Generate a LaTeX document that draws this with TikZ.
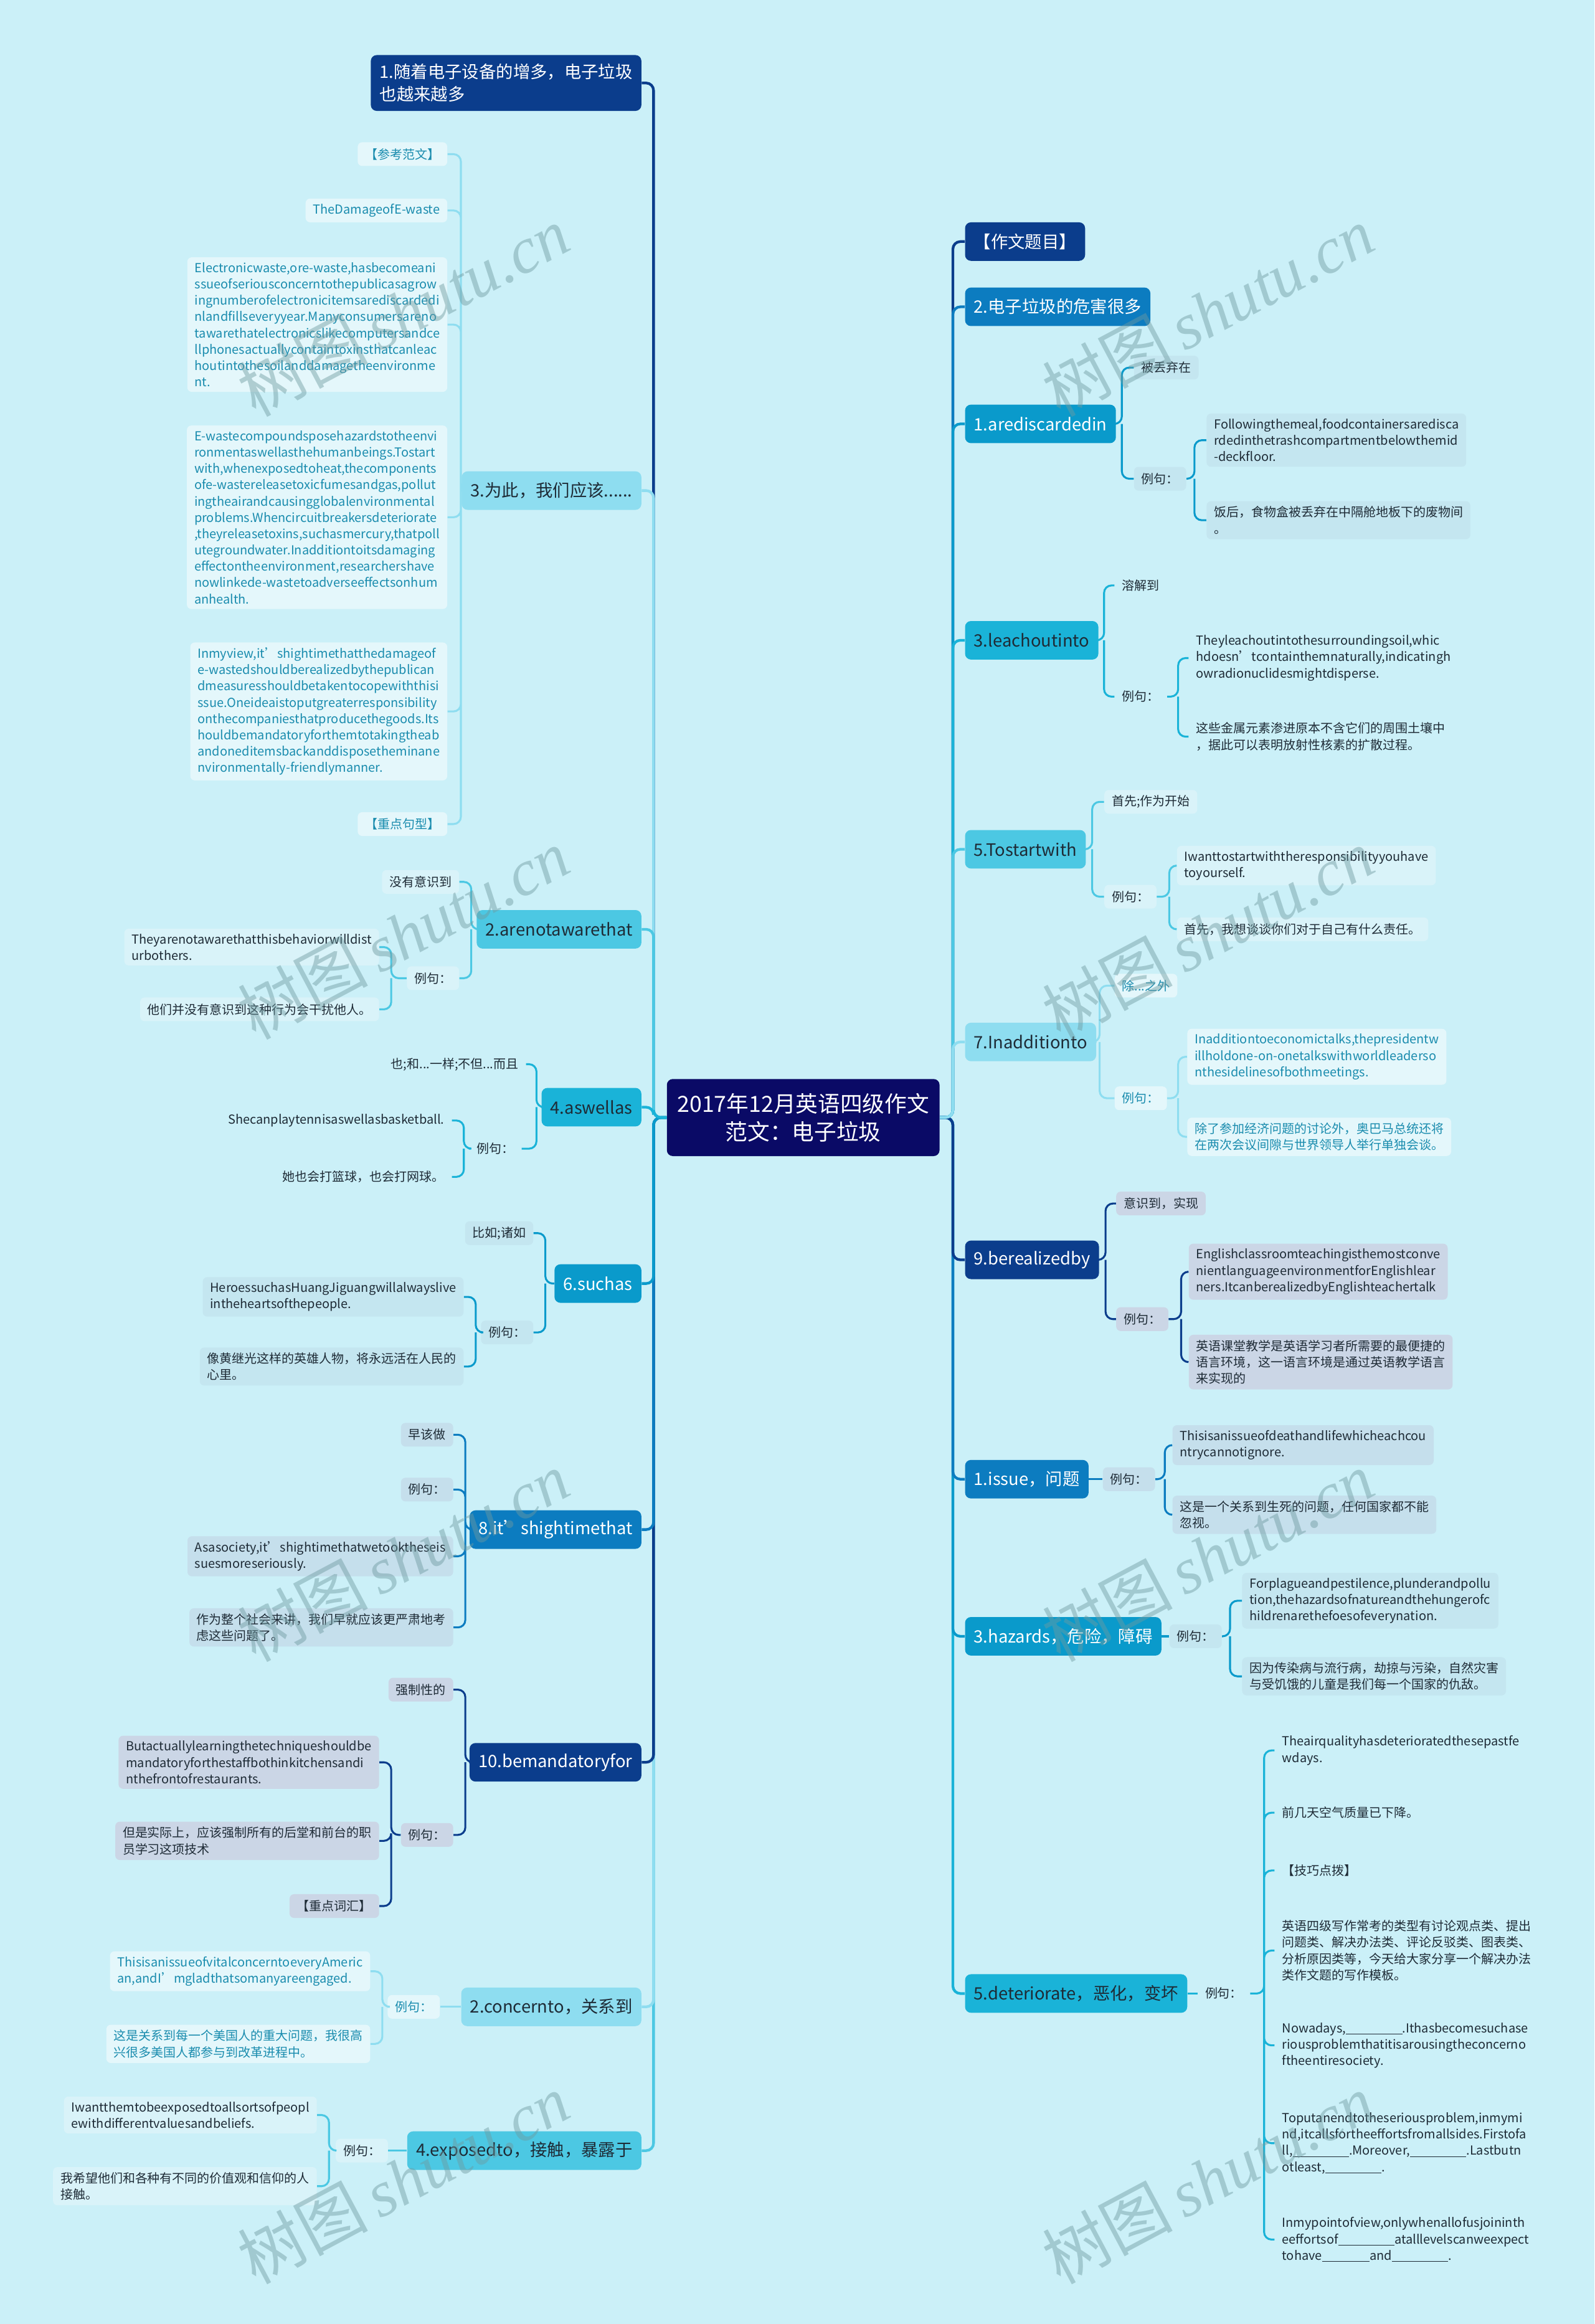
\documentclass[tikz,border=0pt]{standalone}
\usepackage{fontspec}
\setmainfont{Noto Sans CJK SC}
\newfontfamily\marcafont{Liberation Serif}
\newcommand{\hueco}[1]{\rule[-1.2pt]{#1}{0.5pt}}

\begin{document}
\begin{tikzpicture}[x=1pt, y=-1pt,
  tema/.style={rounded corners=4pt, inner xsep=6pt, inner ysep=6pt,
    minimum height=26pt, align=left, font=\fontsize{11.5}{15}\selectfont},
  tema1/.style={tema, fill=tono1, text=white},
  tema2/.style={tema, fill=tono2, text=white},
  tema3/.style={tema, fill=tono3, text=white},
  tema4/.style={tema, fill=tono4, text=tinta},
  tema5/.style={tema, fill=tono5, text=tinta},
  tema6/.style={tema, fill=tono6, text=tinta},
  hoja/.style={rounded corners=3pt, inner xsep=5pt, inner ysep=3.5pt,
    minimum height=16pt, align=left, text=tinta,
    font=\fontsize{8.4}{11}\selectfont},
  hoja1/.style={hoja, fill=palido1},
  hoja2/.style={hoja, fill=palido2},
  hoja3/.style={hoja, fill=palido3},
  hoja4/.style={hoja},
  hoja5/.style={hoja, fill=palido5},
  hoja6/.style={hoja, fill=palido6, text=verdeazul},
  rama/.style={line width=1.8pt, rounded corners=5pt},
  ramita/.style={line width=1.3pt, rounded corners=5pt},
  marca/.style={rotate=28, text=marcagris, opacity=0.45,
    font=\fontsize{44}{44}\selectfont}]
  \definecolor{fondo}{HTML}{CBF0F8}
  \definecolor{raizazul}{HTML}{0A0A66}
  \definecolor{tono1}{HTML}{0B3D8C}
  \definecolor{tono2}{HTML}{0C7CC0}
  \definecolor{tono3}{HTML}{0A9ACB}
  \definecolor{tono4}{HTML}{1AB3D8}
  \definecolor{tono5}{HTML}{4CC8E3}
  \definecolor{tono6}{HTML}{8EDDF0}
  \definecolor{palido1}{HTML}{CBD6E6}
  \definecolor{palido2}{HTML}{C5DFEC}
  \definecolor{palido3}{HTML}{C4E6F0}
  \definecolor{palido5}{HTML}{D9F3F9}
  \definecolor{palido6}{HTML}{E4F7FB}
  \definecolor{tinta}{HTML}{1E2B36}
  \definecolor{verdeazul}{HTML}{1A8CAE}
  \definecolor{marcagris}{HTML}{6E9AA0}

  \fill[fondo] (0,0) rectangle (1076,1568);
  \useasboundingbox (0,0) rectangle (1076,1568);

  \node[fill=raizazul, text=white, rounded corners=4pt, align=center,
    minimum width=184pt, minimum height=52pt,
    font=\fontsize{15}{19}\selectfont] (raiz) at (542,754)
    {2017年12月英语四级作文\\范文：电子垃圾};

  % ---------------- lado izquierdo ----------------
  \node[tema1, anchor=east] (l1) at (433,56) {1.随着电子设备的增多，电子垃圾\\也越来越多};
  \node[tema6, anchor=east] (l2) at (433,331) {3.为此，我们应该......};
  \node[tema5, anchor=east] (l3) at (433,627) {2.arenotawarethat};
  \node[tema4, anchor=east] (l4) at (433,747) {4.aswellas};
  \node[tema3, anchor=east] (l5) at (433,866) {6.suchas};
  \node[tema2, anchor=east] (l6) at (433,1032) {8.it’shightimethat};
  \node[tema1, anchor=east] (l7) at (433,1189) {10.bemandatoryfor};
  \node[tema6, anchor=east] (l8) at (433,1354) {2.concernto，关系到};
  \node[tema5, anchor=east] (l9) at (433,1451) {4.exposedto，接触，暴露于};

  % 3.为此
  \node[hoja6, anchor=east] (l2a) at (302,104) {【参考范文】};
  \node[hoja6, anchor=east] (l2b) at (302,142) {TheDamageofE-waste};
  \node[hoja6, anchor=east] (l2c) at (302,219) {Electronicwaste,ore-waste,hasbecomeani\\ssueofseriousconcerntothepublicasagrow\\ingnumberofelectronicitemsarediscardedi\\nlandfillseveryyear.Manyconsumersareno\\tawarethatelectronicslikecomputersandce\\llphonesactuallycontaintoxinsthatcanleac\\houtintothesoilanddamagetheenvironme\\nt.};
  \node[hoja6, anchor=east] (l2d) at (302,349) {E-wastecompoundsposehazardstotheenvi\\ronmentaswellasthehumanbeings.Tostart\\with,whenexposedtoheat,thecomponents\\ofe-wastereleasetoxicfumesandgas,pollut\\ingtheairandcausingglobalenvironmental\\problems.Whencircuitbreakersdeteriorate\\,theyreleasetoxins,suchasmercury,thatpoll\\utegroundwater.Inadditiontoitsdamaging\\effectontheenvironment,researchershave\\nowlinkede-wastetoadverseeffectsonhum\\anhealth.};
  \node[hoja6, anchor=east] (l2e) at (302,480) {Inmyview,it’shightimethatthedamageof\\e-wastedshouldberealizedbythepublican\\dmeasuresshouldbetakentocopewiththisi\\ssue.Oneideaistoputgreaterresponsibility\\onthecompaniesthatproducethegoods.Its\\houldbemandatoryforthemtotakingtheab\\andoneditemsbackanddisposetheminane\\nvironmentally-friendlymanner.};
  \node[hoja6, anchor=east] (l2g) at (302,556) {【重点句型】};
  \coordinate (l2k) at (311,331);
  \draw[ramita, tono6] (l2.west) -- (l2k) |- (l2a.east) (l2k) |- (l2b.east)
    (l2k) |- (l2c.east) (l2k) |- (l2d.east) (l2k) |- (l2e.east) (l2k) |- (l2g.east);

  % 2.arenotawarethat
  \node[hoja5, anchor=east] (l3a) at (310,595) {没有意识到};
  \node[hoja5, anchor=east] (l3b) at (310,660) {例句：};
  \node[hoja5, anchor=east] (l3c) at (256,639) {Theyarenotawarethatthisbehaviorwilldist\\urbothers.};
  \node[hoja5, anchor=east] (l3d) at (256,681) {他们并没有意识到这种行为会干扰他人。};
  \coordinate (l3k) at (318,627);
  \coordinate (l3q) at (264,660);
  \draw[ramita, tono5] (l3.west) -- (l3k) |- (l3a.east) (l3k) |- (l3b.east);
  \draw[ramita, tono5] (l3b.west) -- (l3q) |- (l3c.east) (l3q) |- (l3d.east);

  % 4.aswellas
  \node[hoja4, anchor=east] (l4a) at (355,718) {也;和...一样;不但...而且};
  \node[hoja4, anchor=east] (l4b) at (352,775) {例句：};
  \node[hoja4, anchor=east] (l4c) at (305,756) {Shecanplaytennisaswellasbasketball.};
  \node[hoja4, anchor=east] (l4d) at (305,794) {她也会打篮球，也会打网球。};
  \coordinate (l4k) at (362,747);
  \coordinate (l4q) at (313,775);
  \draw[ramita, tono4] (l4.west) -- (l4k) |- (l4a.east) (l4k) |- (l4b.east);
  \draw[ramita, tono4] (l4b.west) -- (l4q) |- (l4c.east) (l4q) |- (l4d.east);

  % 6.suchas
  \node[hoja3, anchor=east] (l5a) at (360,832) {比如;诸如};
  \node[hoja3, anchor=east] (l5b) at (360,899) {例句：};
  \node[hoja3, anchor=east] (l5c) at (313,875) {HeroessuchasHuangJiguangwillalwayslive\\intheheartsofthepeople.};
  \node[hoja3, anchor=east] (l5d) at (313,922) {像黄继光这样的英雄人物，将永远活在人民的\\心里。};
  \coordinate (l5k) at (368,866);
  \coordinate (l5q) at (321,899);
  \draw[ramita, tono3] (l5.west) -- (l5k) |- (l5a.east) (l5k) |- (l5b.east);
  \draw[ramita, tono3] (l5b.west) -- (l5q) |- (l5c.east) (l5q) |- (l5d.east);

  % 8.it's high time that
  \node[hoja2, anchor=east] (l6a) at (306,968) {早该做};
  \node[hoja2, anchor=east] (l6b) at (306,1005) {例句：};
  \node[hoja2, anchor=east] (l6c) at (306,1050) {Asasociety,it'shightimethatwetooktheseis\\suesmoreseriously.};
  \node[hoja2, anchor=east] (l6d) at (306,1098) {作为整个社会来讲，我们早就应该更严肃地考\\虑这些问题了。};
  \coordinate (l6k) at (314,1032);
  \draw[ramita, tono2] (l6.west) -- (l6k) |- (l6a.east) (l6k) |- (l6b.east)
    (l6k) |- (l6c.east) (l6k) |- (l6d.east);

  % 10.bemandatoryfor
  \node[hoja1, anchor=east] (l7a) at (306,1140) {强制性的};
  \node[hoja1, anchor=east] (l7b) at (306,1238) {例句：};
  \node[hoja1, anchor=east] (l7c) at (256,1189) {Butactuallylearningthetechniqueshouldbe\\mandatoryforthestaffbothinkitchensandi\\nthefrontofrestaurants.};
  \node[hoja1, anchor=east] (l7d) at (256,1242) {但是实际上，应该强制所有的后堂和前台的职\\员学习这项技术};
  \node[hoja1, anchor=east] (l7e) at (256,1286) {【重点词汇】};
  \coordinate (l7k) at (314,1189);
  \coordinate (l7q) at (264,1238);
  \draw[ramita, tono1] (l7.west) -- (l7k) |- (l7a.east) (l7k) |- (l7b.east);
  \draw[ramita, tono1] (l7b.west) -- (l7q) |- (l7c.east) (l7q) |- (l7d.east)
    (l7q) |- (l7e.east);

  % 2.concernto
  \node[hoja6, anchor=east] (l8a) at (297,1354) {例句：};
  \node[hoja6, anchor=east] (l8b) at (250,1330) {ThisisanissueofvitalconcerntoeveryAmeric\\an,andI’mgladthatsomanyareengaged.};
  \node[hoja6, anchor=east] (l8c) at (250,1379) {这是关系到每一个美国人的重大问题，我很高\\兴很多美国人都参与到改革进程中。};
  \coordinate (l8q) at (258,1354);
  \draw[ramita, tono6] (l8.west) -- (l8a.east);
  \draw[ramita, tono6] (l8a.west) -- (l8q) |- (l8b.east) (l8q) |- (l8c.east);

  % 4.exposedto
  \node[hoja5, anchor=east] (l9a) at (262,1451) {例句：};
  \node[hoja5, anchor=east] (l9b) at (214,1427) {Iwantthemtobeexposedtoallsortsofpeopl\\ewithdifferentvaluesandbeliefs.};
  \node[hoja5, anchor=east] (l9c) at (214,1475) {我希望他们和各种有不同的价值观和信仰的人\\接触。};
  \coordinate (l9q) at (222,1451);
  \draw[ramita, tono5] (l9.west) -- (l9a.east);
  \draw[ramita, tono5] (l9a.west) -- (l9q) |- (l9b.east) (l9q) |- (l9c.east);

  % ---------------- lado derecho ----------------
  \node[tema1, anchor=west] (r1) at (651,163) {【作文题目】};
  \node[tema2, anchor=west] (r2) at (651,207) {2.电子垃圾的危害很多};
  \node[tema3, anchor=west] (r3) at (651,286) {1.arediscardedin};
  \node[tema4, anchor=west] (r4) at (651,432) {3.leachoutinto};
  \node[tema5, anchor=west] (r5) at (651,573) {5.Tostartwith};
  \node[tema6, anchor=west] (r6) at (651,703) {7.Inadditionto};
  \node[tema1, anchor=west] (r7) at (651,850) {9.berealizedby};
  \node[tema2, anchor=west] (r8) at (651,998) {1.issue，问题};
  \node[tema3, anchor=west] (r9) at (651,1104) {3.hazards，危险，障碍};
  \node[tema4, anchor=west] (r10) at (651,1345) {5.deteriorate，恶化，变坏};

  % 1.arediscardedin
  \node[hoja3, anchor=west] (r3a) at (765,248) {被丢弃在};
  \node[hoja3, anchor=west] (r3b) at (765,323) {例句：};
  \node[hoja3, anchor=west] (r3c) at (814,297) {Followingthemeal,foodcontainersaredisca\\rdedinthetrashcompartmentbelowthemid\\-deckfloor.};
  \node[hoja3, anchor=west] (r3d) at (814,351) {饭后，食物盒被丢弃在中隔舱地板下的废物间\\。};
  \coordinate (r3k) at (757,286);
  \coordinate (r3q) at (806,323);
  \draw[ramita, tono3] (r3.east) -- (r3k) |- (r3a.west) (r3k) |- (r3b.west);
  \draw[ramita, tono3] (r3b.east) -- (r3q) |- (r3c.west) (r3q) |- (r3d.west);

  % 3.leachoutinto
  \node[hoja4, anchor=west] (r4a) at (752,395) {溶解到};
  \node[hoja4, anchor=west] (r4b) at (752,470) {例句：};
  \node[hoja4, anchor=west] (r4c) at (802,444) {Theyleachoutintothesurroundingsoil,whic\\hdoesn'tcontainthemnaturally,indicatingh\\owradionuclidesmightdisperse.};
  \node[hoja4, anchor=west] (r4d) at (802,497) {这些金属元素渗进原本不含它们的周围土壤中\\，据此可以表明放射性核素的扩散过程。};
  \coordinate (r4k) at (745,432);
  \coordinate (r4q) at (795,470);
  \draw[ramita, tono4] (r4.east) -- (r4k) |- (r4a.west) (r4k) |- (r4b.west);
  \draw[ramita, tono4] (r4b.east) -- (r4q) |- (r4c.west) (r4q) |- (r4d.west);

  % 5.Tostartwith
  \node[hoja5, anchor=west] (r5a) at (745,541) {首先;作为开始};
  \node[hoja5, anchor=west] (r5b) at (745,605) {例句：};
  \node[hoja5, anchor=west] (r5c) at (794,584) {Iwanttostartwiththeresponsibilityyouhave\\toyourself.};
  \node[hoja5, anchor=west] (r5d) at (794,627) {首先，我想谈谈你们对于自己有什么责任。};
  \coordinate (r5k) at (737,573);
  \coordinate (r5q) at (789,605);
  \draw[ramita, tono5] (r5.east) -- (r5k) |- (r5a.west) (r5k) |- (r5b.west);
  \draw[ramita, tono5] (r5b.east) -- (r5q) |- (r5c.west) (r5q) |- (r5d.west);

  % 7.Inadditionto
  \node[hoja6, anchor=west] (r6a) at (752,665) {除...之外};
  \node[hoja6, anchor=west] (r6b) at (752,741) {例句：};
  \node[hoja6, anchor=west] (r6c) at (801,713) {Inadditiontoeconomictalks,thepresidentw\\illholdone-on-onetalkswithworldleaderso\\nthesidelinesofbothmeetings.};
  \node[hoja6, anchor=west] (r6d) at (801,767) {除了参加经济问题的讨论外，奥巴马总统还将\\在两次会议间隙与世界领导人举行单独会谈。};
  \coordinate (r6k) at (742,703);
  \coordinate (r6q) at (795,741);
  \draw[ramita, tono6] (r6.east) -- (r6k) |- (r6a.west) (r6k) |- (r6b.west);
  \draw[ramita, tono6] (r6b.east) -- (r6q) |- (r6c.west) (r6q) |- (r6d.west);

  % 9.berealizedby
  \node[hoja1, anchor=west] (r7a) at (753,812) {意识到，实现};
  \node[hoja1, anchor=west] (r7b) at (753,890) {例句：};
  \node[hoja1, anchor=west] (r7c) at (802,858) {Englishclassroomteachingisthemostconve\\nientlanguageenvironmentforEnglishlear\\ners.ItcanberealizedbyEnglishteachertalk};
  \node[hoja1, anchor=west] (r7d) at (802,919) {英语课堂教学是英语学习者所需要的最便捷的\\语言环境，这一语言环境是通过英语教学语言\\来实现的};
  \coordinate (r7k) at (746,850);
  \coordinate (r7q) at (797,890);
  \draw[ramita, tono1] (r7.east) -- (r7k) |- (r7a.west) (r7k) |- (r7b.west);
  \draw[ramita, tono1] (r7b.east) -- (r7q) |- (r7c.west) (r7q) |- (r7d.west);

  % 1.issue
  \node[hoja2, anchor=west] (r8a) at (744,998) {例句：};
  \node[hoja2, anchor=west] (r8b) at (791,975) {Thisisanissueofdeathandlifewhicheachcou\\ntrycannotignore.};
  \node[hoja2, anchor=west] (r8c) at (791,1022) {这是一个关系到生死的问题，任何国家都不能\\忽视。};
  \coordinate (r8q) at (786,998);
  \draw[ramita, tono2] (r8.east) -- (r8a.west);
  \draw[ramita, tono2] (r8a.east) -- (r8q) |- (r8b.west) (r8q) |- (r8c.west);

  % 3.hazards
  \node[hoja3, anchor=west] (r9a) at (789,1104) {例句：};
  \node[hoja3, anchor=west] (r9b) at (838,1080) {Forplagueandpestilence,plunderandpollu\\tion,thehazardsofnatureandthehungerofc\\hildrenarethefoesofeverynation.};
  \node[hoja3, anchor=west] (r9c) at (838,1131) {因为传染病与流行病，劫掠与污染，自然灾害\\与受饥饿的儿童是我们每一个国家的仇敌。};
  \coordinate (r9q) at (830,1104);
  \draw[ramita, tono3] (r9.east) -- (r9a.west);
  \draw[ramita, tono3] (r9a.east) -- (r9q) |- (r9b.west) (r9q) |- (r9c.west);

  % 5.deteriorate
  \node[hoja4, anchor=west] (r10a) at (808,1345) {例句：};
  \node[hoja4, anchor=west] (r10b) at (860,1181) {Theairqualityhasdeterioratedthesepastfe\\wdays.};
  \node[hoja4, anchor=west] (r10c) at (860,1223) {前几天空气质量已下降。};
  \node[hoja4, anchor=west] (r10d) at (860,1262) {【技巧点拨】};
  \node[hoja4, anchor=west] (r10e) at (860,1316) {英语四级写作常考的类型有讨论观点类、提出\\问题类、解决办法类、评论反驳类、图表类、\\分析原因类等，今天给大家分享一个解决办法\\类作文题的写作模板。};
  \node[hoja4, anchor=west] (r10g) at (860,1380) {Nowadays,\hueco{38pt}.Ithasbecomesuchase\\riousproblemthatitisarousingtheconcerno\\ftheentiresociety.};
  \node[hoja4, anchor=west] (r10h) at (860,1446) {Toputanendtotheseriousproblem,inmymi\\nd,itcallsfortheeffortsfromallsides.Firstofa\\ll,\hueco{38pt}.Moreover,\hueco{38pt}.Lastbutn\\otleast,\hueco{38pt}.};
  \node[hoja4, anchor=west] (r10i) at (860,1511) {Inmypointofview,onlywhenallofusjoininth\\eeffortsof\hueco{38pt}atalllevelscanweexpect\\tohave\hueco{32pt}and\hueco{38pt}.};
  \coordinate (r10q) at (853,1345);
  \draw[ramita, tono4] (r10.east) -- (r10a.west);
  \draw[ramita, tono4] (r10a.east) -- (r10q) |- (r10b.west) (r10q) |- (r10c.west)
    (r10q) |- (r10d.west) (r10q) |- (r10e.west) (r10q) |- (r10g.west)
    (r10q) |- (r10h.west) (r10q) |- (r10i.west);

  % ---------------- tronco ----------------
  \coordinate (ti) at (441,754);
  \coordinate (td) at (643,754);
  \draw[rama, tono1] (raiz.west) -- (ti) |- (l1.east);
  \draw[rama, tono5] (raiz.west) -- (ti) |- (l9.east);
  \draw[rama, tono6] (raiz.west) -- (ti) |- (l8.east);
  \draw[rama, tono1] (raiz.west) -- (ti) |- (l7.east);
  \draw[rama, tono6] (raiz.west) -- (ti) |- (l2.east);
  \draw[rama, tono2] (raiz.west) -- (ti) |- (l6.east);
  \draw[rama, tono5] (raiz.west) -- (ti) |- (l3.east);
  \draw[rama, tono3] (raiz.west) -- (ti) |- (l5.east);
  \draw[rama, tono4] (raiz.west) -- (ti) |- (l4.east);
  \draw[rama, tono1] (raiz.east) -- (td) |- (r1.west);
  \draw[rama, tono4] (raiz.east) -- (td) |- (r10.west);
  \draw[rama, tono2] (raiz.east) -- (td) |- (r2.west);
  \draw[rama, tono3] (raiz.east) -- (td) |- (r3.west);
  \draw[rama, tono3] (raiz.east) -- (td) |- (r9.west);
  \draw[rama, tono4] (raiz.east) -- (td) |- (r4.west);
  \draw[rama, tono2] (raiz.east) -- (td) |- (r8.west);
  \draw[rama, tono5] (raiz.east) -- (td) |- (r5.west);
  \draw[rama, tono1] (raiz.east) -- (td) |- (r7.west);
  \draw[rama, tono6] (raiz.east) -- (td) |- (r6.west);

  % marca de agua
  \foreach \y [count=\i] in {210,630,1050,1470} {
    \node[marca] (mi\i) at (272,\y) {树图\,{\marcafont\itshape shutu.cn}};
    \node[marca] (md\i) at (815,\y) {树图\,{\marcafont\itshape shutu.cn}};
  }
\end{tikzpicture}
\end{document}
